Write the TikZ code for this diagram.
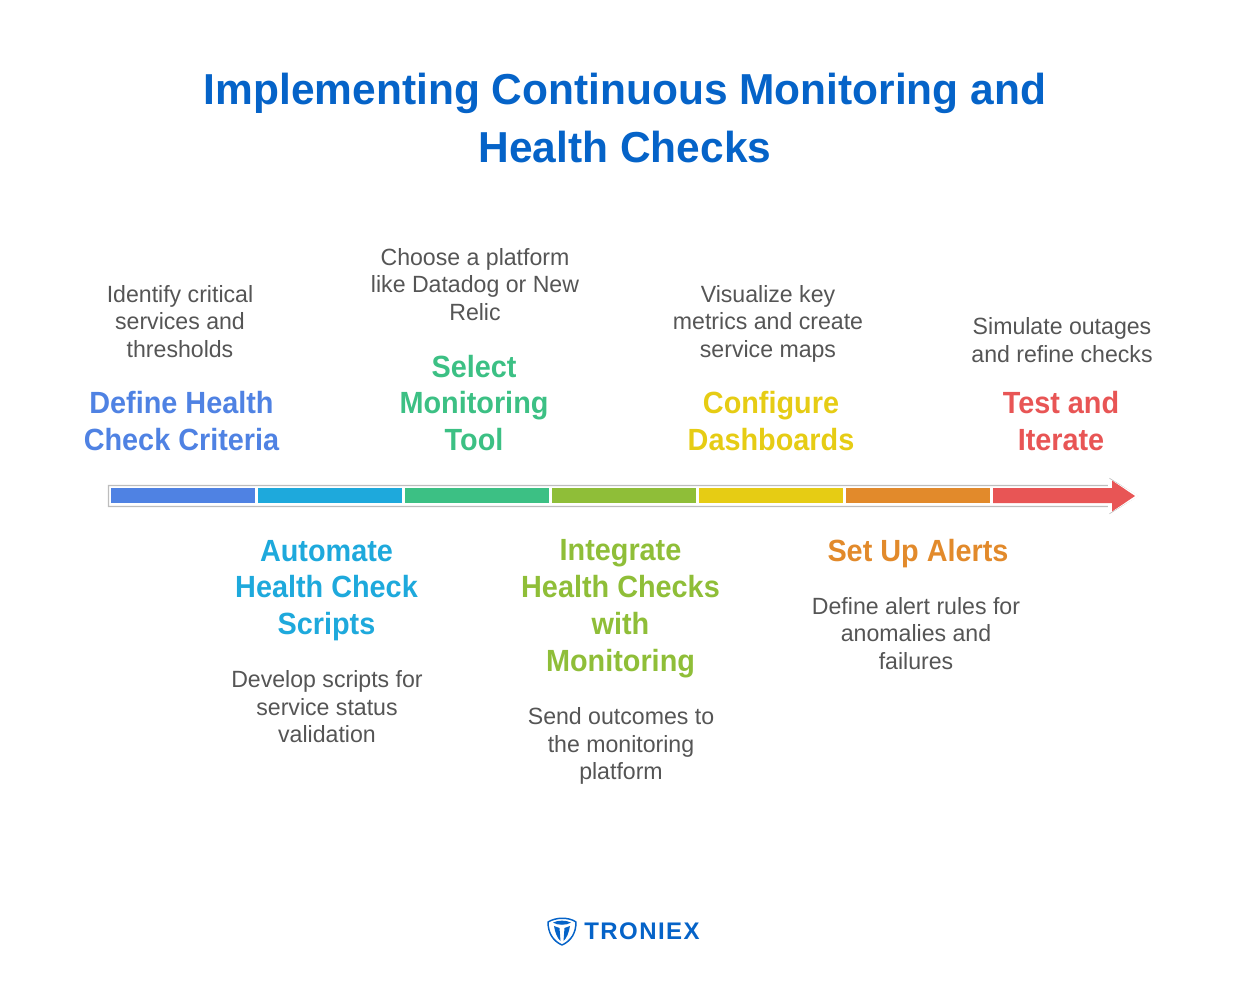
\documentclass[tikz,border=0pt]{standalone}
\usepackage{fontspec}
\setmainfont{Liberation Sans}
\newfontfamily\titlefam[FakeStretch=0.98]{Liberation Sans}
\newfontfamily\headfam[FakeStretch=0.94]{Liberation Sans}
\newfontfamily\bodyfam[FakeStretch=0.985]{Liberation Sans}
\newfontfamily\logofam[LetterSpace=6]{Liberation Sans}
\definecolor{cblue}{HTML}{4F82E3}
\definecolor{ccyan}{HTML}{1EA9DC}
\definecolor{cgreen}{HTML}{3CC084}
\definecolor{colive}{HTML}{8FBE38}
\definecolor{cyellow}{HTML}{E6CC14}
\definecolor{corange}{HTML}{E28A2B}
\definecolor{cred}{HTML}{E85555}
\definecolor{ctitle}{HTML}{0563C8}
\definecolor{cbody}{HTML}{555555}
\definecolor{cframe}{HTML}{BDBDBD}
\tikzset{
  titletext/.style={font=\titlefam\fontsize{32.5}{43.5}\selectfont\bfseries,text=ctitle,align=center,anchor=center},
  headtext/.style={font=\headfam\fontsize{23}{27.6}\selectfont\bfseries,align=center,anchor=center},
  bodytext/.style={font=\bodyfam\fontsize{17.6}{20.6}\selectfont,text=cbody,align=center,anchor=center},
}
\begin{document}
\begin{tikzpicture}[x=0.75pt,y=-0.75pt]
\useasboundingbox (0,0) rectangle (1248,994);
\node[titletext] (title) at (625,118) {Implementing Continuous Monitoring and\\Health Checks};
% bar
\draw[cframe,line width=1pt,fill=white] (108.5,485.5) -- (1110,485.5) -- (1110,479) -- (1137,496) -- (1110,513) -- (1110,506.5) -- (108.5,506.5) -- cycle;
\fill[white] (1108,478) -- (1139,496) -- (1108,514) -- cycle;
\fill[cblue] (111,488) rectangle (255,503);
\fill[ccyan] (258,488) rectangle (402,503);
\fill[cgreen] (405,488) rectangle (549,503);
\fill[colive] (552,488) rectangle (696,503);
\fill[cyellow] (699,488) rectangle (843,503);
\fill[corange] (846,488) rectangle (990,503);
\fill[cred] (993,488) -- (1112,488) -- (1112,480.5) -- (1135,496) -- (1112,511.5) -- (1112,503) -- (993,503) -- cycle;
% labels above
\node[bodytext] (d1) at (180,321.5) {Identify critical\\services and\\thresholds};
\node[headtext,text=cblue] (h1) at (181.5,421) {Define Health\\Check Criteria};
\node[bodytext] (d3) at (475,284.5) {Choose a platform\\like Datadog or New\\Relic};
\node[headtext,text=cgreen] (h3) at (474,403) {Select\\Monitoring\\Tool};
\node[bodytext] (d5) at (768,323.5) {Visualize key\\metrics and create\\service maps};
\node[headtext,text=cyellow] (h5) at (771,421) {Configure\\Dashboards};
\node[bodytext] (d7) at (1062,340) {Simulate outages\\and refine checks};
\node[headtext,text=cred] (h7) at (1061,421) {Test and\\Iterate};
% labels below
\node[headtext,text=ccyan] (h2) at (326.5,590.5) {Automate\\Health Check\\Scripts};
\node[bodytext] (d2) at (327,707) {Develop scripts for\\service status\\validation};
\node[headtext,text=colive] (h4) at (620.5,608.5) {Integrate\\Health Checks\\with\\Monitoring};
\node[bodytext] (d4) at (621,746) {Send outcomes to\\the monitoring\\platform};
\node[headtext,text=corange] (h6) at (918,553.5) {Set Up Alerts};
\node[bodytext] (d6) at (916,633.5) {Define alert rules for\\anomalies and\\failures};
% logo
\draw[ctitle,line width=1.1pt,fill=white,line join=round] (548,922) .. controls (556,917) and (569,917) .. (576,922) .. controls (576,933) and (571,941) .. (562,945) .. controls (553,941) and (548,933) .. (548,922) -- cycle;
\fill[ctitle] (553,922.5) .. controls (558,920) and (566,920) .. (571,922.5) .. controls (567,925.5) and (557,925.5) .. (553,922.5) -- cycle;
\fill[ctitle] (554,926) -- (559.5,928) -- (560.5,941) .. controls (557,938) and (555,932) .. (554,926) -- cycle;
\fill[ctitle] (570,926) -- (564.5,928) -- (563.5,941) .. controls (567,938) and (569,932) .. (570,926) -- cycle;
\node[font=\logofam\fontsize{18}{20}\selectfont\bfseries,text=ctitle,anchor=center] (logo) at (642,931) {TRONIEX};
\end{tikzpicture}
\end{document}
